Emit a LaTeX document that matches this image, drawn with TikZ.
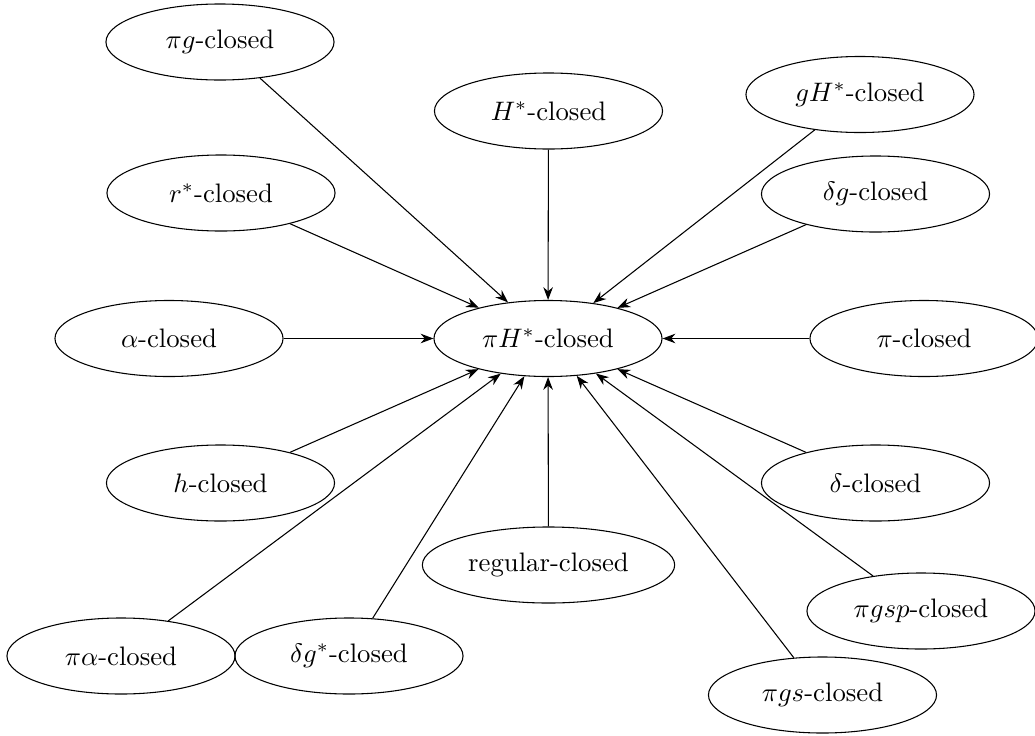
\documentclass[tikz,border=0pt]{standalone}
\usetikzlibrary{shapes.geometric,arrows.meta}
\tikzset{
  cls/.style={draw, ellipse, minimum width=3cm, minimum height=1cm, inner sep=0.3333em},
  imp/.style={-{Stealth}}
}
\begin{document}
\begin{tikzpicture}[x=0.0131579cm, y=-0.0131579cm]
\useasboundingbox (0,0) rectangle (1035,736);
% central class
\node[cls] (c) at (548,338.5) {$\pi H^{*}$-closed};
% surrounding classes
\node[cls] (pig)   at (220,42)    {$\pi g$-closed};
\node[cls] (hs)    at (548.5,111) {$H^{*}$-closed};
\node[cls] (ghs)   at (860,94.5)  {$gH^{*}$-closed};
\node[cls] (rs)    at (221,193)   {$r^{*}$-closed};
\node[cls] (dg)    at (875.5,194) {$\delta g$-closed};
\node[cls] (al)    at (169,338.5) {$\alpha$-closed};
\node[cls] (pi)    at (924,338.5) {$\pi$-closed};
\node[cls] (h)     at (220.5,483) {$h$-closed};
\node[cls] (d)     at (875.5,483) {$\delta$-closed};
\node[cls] (reg)   at (548.5,565) {regular-closed};
\node[cls] (pigsp) at (921,611)   {$\pi gsp$-closed};
\node[cls] (pial)  at (121,656)   {$\pi\alpha$-closed};
\node[cls] (dgs)   at (349,656)   {$\delta g^{*}$-closed};
\node[cls] (pigs)  at (822.5,695) {$\pi gs$-closed};
% implications into the central class
\foreach \n in {pig,hs,ghs,rs,dg,al,pi,h,d,reg,pigsp,pial,dgs,pigs}
  \draw[imp] (\n) -- (c);
\end{tikzpicture}
\end{document}
